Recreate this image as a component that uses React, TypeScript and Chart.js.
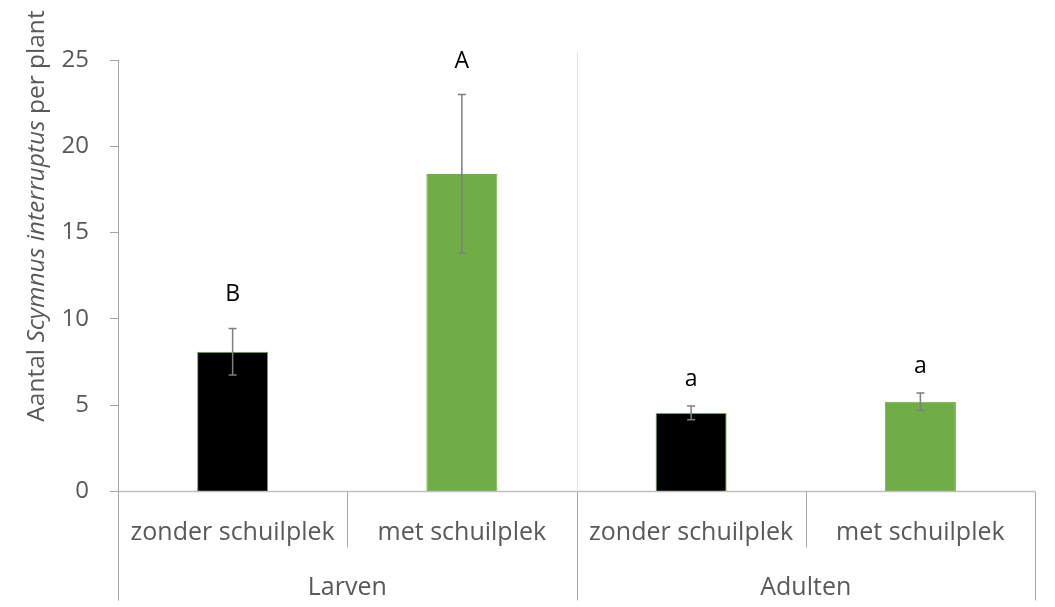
import React, { useEffect, useRef } from "react";
import { Chart, registerables } from "chart.js";

Chart.register(...registerables);

const groups = ["Larven", "Adulten"];
const categories = ["zonder schuilplek", "met schuilplek", "zonder schuilplek", "met schuilplek"];
const means = [8.1, 18.4, 4.55, 5.2];
const errors = [1.35, 4.6, 0.4, 0.5];
const letters = ["B", "A", "a", "a"];
const barColors = ["#000000", "#70AD47", "#000000", "#70AD47"];
const yTicks = [0, 5, 10, 15, 20, 25];
const titleParts = [
  { text: "Aantal ", italic: false },
  { text: "Scymnus interruptus", italic: true },
  { text: " per plant", italic: false },
];

const FONT = "'Open Sans', 'DejaVu Sans', sans-serif";
const TEXT = "#595959";
const AXIS = "#a6a6a6";

const overlay = {
  id: "overlay",
  afterDatasetsDraw(chart: any) {
    const { ctx, chartArea, scales } = chart;
    const x = scales.x;
    const y = scales.y;
    const y0 = y.getPixelForValue(0);
    const meta = chart.getDatasetMeta(0);
    ctx.save();

    // error bars
    ctx.strokeStyle = "#7f7f7f";
    ctx.lineWidth = 1.5;
    means.forEach((m, i) => {
      const bx = meta.data[i].x;
      const top = y.getPixelForValue(m + errors[i]);
      const bot = y.getPixelForValue(m - errors[i]);
      ctx.beginPath();
      ctx.moveTo(bx, top);
      ctx.lineTo(bx, bot);
      ctx.moveTo(bx - 4, top);
      ctx.lineTo(bx + 4, top);
      ctx.moveTo(bx - 4, bot);
      ctx.lineTo(bx + 4, bot);
      ctx.stroke();
    });

    // letters
    ctx.fillStyle = "#000000";
    ctx.font = `23px ${FONT}`;
    ctx.textAlign = "center";
    ctx.textBaseline = "alphabetic";
    means.forEach((m, i) => {
      const bx = meta.data[i].x;
      const top = y.getPixelForValue(m + errors[i]);
      const isUpper = letters[i] === letters[i].toUpperCase();
      ctx.fillText(letters[i], bx, top - (isUpper ? 27 : 20));
    });

    // x axis line
    ctx.strokeStyle = "#bfbfbf";
    ctx.lineWidth = 1.5;
    ctx.beginPath();
    ctx.moveTo(chartArea.left, y0);
    ctx.lineTo(chartArea.right, y0);
    ctx.stroke();

    // boundaries
    const n = categories.length;
    const bound = (i: number) => {
      if (i === 0) return chartArea.left;
      if (i === n) return chartArea.right;
      return (x.getPixelForValue(i - 1) + x.getPixelForValue(i)) / 2;
    };
    const perGroup = n / groups.length;
    ctx.strokeStyle = AXIS;
    ctx.lineWidth = 1;
    for (let i = 0; i <= n; i++) {
      const bx = Math.round(bound(i)) + 0.5;
      const isGroup = i % perGroup === 0;
      ctx.beginPath();
      ctx.moveTo(bx, y0);
      ctx.lineTo(bx, isGroup ? y0 + 109 : y0 + 56);
      ctx.stroke();
      if (isGroup && i !== 0 && i !== n) {
        ctx.strokeStyle = "#e3e3e3";
        ctx.beginPath();
        ctx.moveTo(bx, chartArea.top - 8);
        ctx.lineTo(bx, y0);
        ctx.stroke();
        ctx.strokeStyle = AXIS;
      }
    }

    // category labels
    ctx.fillStyle = TEXT;
    ctx.font = `25px ${FONT}`;
    ctx.textBaseline = "middle";
    categories.forEach((c, i) => {
      ctx.fillText(c, x.getPixelForValue(i), y0 + 41);
    });
    groups.forEach((g, gi) => {
      const cx = (bound(gi * perGroup) + bound((gi + 1) * perGroup)) / 2;
      ctx.fillText(g, cx, y0 + 96);
    });

    // y title (mixed italic)
    ctx.translate(37, 216);
    ctx.rotate(-Math.PI / 2);
    ctx.textAlign = "left";
    const fonts = titleParts.map((p) => `${p.italic ? "italic " : ""}24.5px ${FONT}`);
    let total = 0;
    const widths = titleParts.map((p, i) => {
      ctx.font = fonts[i];
      const w = ctx.measureText(p.text).width;
      total += w;
      return w;
    });
    let cx = -total / 2;
    titleParts.forEach((p, i) => {
      ctx.font = fonts[i];
      ctx.fillText(p.text, cx, 0);
      cx += widths[i];
    });

    ctx.restore();
  },
  beforeDatasetsDraw(chart: any) {
    const { ctx, chartArea } = chart;
    // y axis extension below plot
    ctx.save();
    ctx.strokeStyle = AXIS;
    ctx.lineWidth = 1;
    ctx.beginPath();
    ctx.moveTo(Math.round(chartArea.left) + 0.5, chartArea.bottom);
    ctx.lineTo(Math.round(chartArea.left) + 0.5, chartArea.bottom + 109);
    ctx.stroke();
    ctx.restore();
  },
};

export default function App() {
  const ref = useRef<HTMLCanvasElement>(null);
  useEffect(() => {
    if (!ref.current) return;
    const chart = new Chart(ref.current, {
      type: "bar",
      data: {
        labels: categories.map((c, i) => `${groups[Math.floor(i / 2)]} ${c}`),
        datasets: [
          {
            data: means,
            backgroundColor: barColors,
            borderColor: "#70AD47",
            borderWidth: 1,
            barPercentage: 0.31,
            categoryPercentage: 1,
          },
        ],
      },
      options: {
        animation: false,
        responsive: false,
        devicePixelRatio: 1,
        layout: { padding: { left: 0, top: 60, right: 20, bottom: 115.5 } },
        plugins: { legend: { display: false }, tooltip: { enabled: false } },
        scales: {
          x: { display: false, offset: true },
          y: {
            min: yTicks[0],
            max: yTicks[yTicks.length - 1],
            afterFit: (s: any) => {
              s.width = 118;
            },
            afterBuildTicks: (s: any) => {
              s.ticks = yTicks.map((v) => ({ value: v }));
            },
            ticks: {
              color: TEXT,
              font: { family: FONT, size: 24 },
              padding: 21,
            },
            grid: {
              drawOnChartArea: false,
              drawTicks: true,
              tickLength: 8,
              color: AXIS,
            },
            border: { display: true, color: AXIS, width: 1 },
          },
        },
      },
      plugins: [overlay],
    });
    return () => chart.destroy();
  }, []);
  return (
    <div style={{ position: "absolute", left: 0, top: 0, width: 1055, height: 607, background: "#fff" }}>
      <canvas ref={ref} width={1055} height={607} />
    </div>
  );
}
